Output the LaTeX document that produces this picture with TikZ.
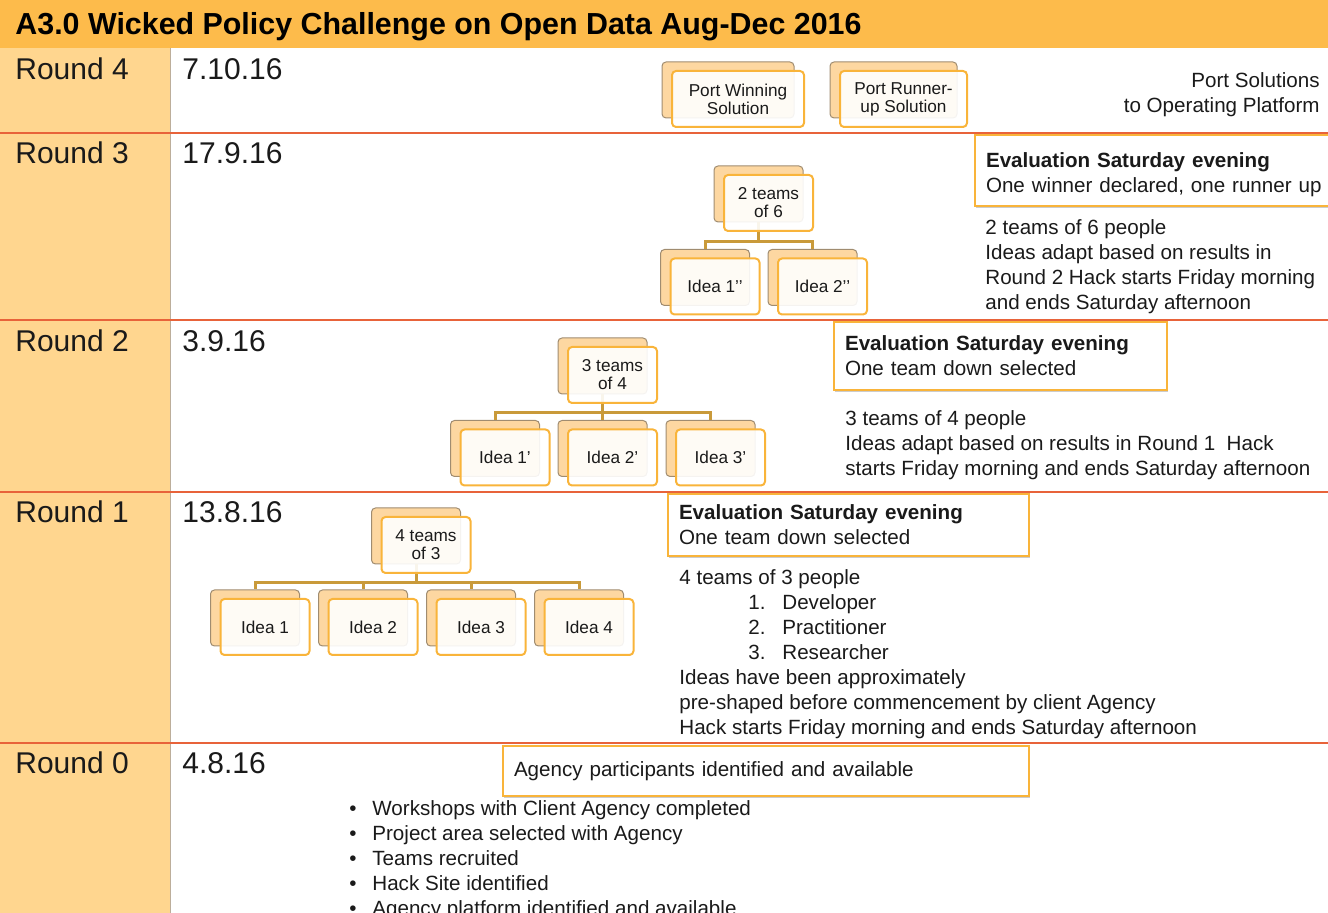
\documentclass[tikz,border=0pt]{standalone}
\usepackage{fontspec}
\setmainfont{Liberation Sans}
\usepackage{xcolor}
\usepackage{tikz}
\usetikzlibrary{positioning, shadows}

\definecolor{titlebar}{HTML}{FDBB4B}
\definecolor{roundcol}{HTML}{FFD68F}
\definecolor{roundrule}{HTML}{E8633A}
\definecolor{cardfill}{HTML}{FDD7A1}
\definecolor{carddraw}{HTML}{A08C70}
\definecolor{cardedge}{HTML}{F9B43A}
\definecolor{treecol}{HTML}{C99A3A}
\definecolor{ink}{HTML}{1A1A1A}

\tikzset{
  cardback/.style={draw=carddraw, line width=0.5pt, fill=cardfill, rounded corners=2pt,
    minimum width=44.5pt, minimum height=28pt, inner sep=0pt},
  cardfront/.style={draw=cardedge, line width=1pt, fill=white, fill opacity=0.9, text opacity=1,
    rounded corners=2pt, minimum width=44.5pt, minimum height=28pt, inner sep=0pt,
    align=center, text=ink, font=\fontsize{8.6}{9}\selectfont},
  treeline/.style={draw=treecol, line width=1.5pt},
  roundlbl/.style={anchor=base west, inner sep=0pt, text=ink, font=\fontsize{15}{18}\selectfont},
  evalbox/.style={draw=cardedge, line width=1pt, fill=white, anchor=north west,
    inner xsep=5.5pt, inner ysep=0pt, align=left, text=ink,
    font=\fontsize{10.3}{12.5}\selectfont,
    drop shadow={shadow xshift=0.4pt, shadow yshift=-0.8pt, fill=black, opacity=0.2}},
  notes/.style={anchor=north west, inner sep=0pt, align=left, text=ink,
    font=\fontsize{10.3}{12.5}\selectfont},
}

\begin{document}
\begin{tikzpicture}[x=0.5pt, y=-0.5pt]
\useasboundingbox (0,0) rectangle (1328,913);
% Title bar and round column
\fill[titlebar] (0,0) rectangle (1328,48);
\fill[roundcol] (0,48) rectangle (170,913);
\draw[carddraw!70, line width=0.5pt] (170,48) -- (170,913);
\node[anchor=base west, inner sep=0pt, text=black, font=\bfseries\fontsize{15.2}{18}\selectfont]
  (title) at (15,35) {A3.0 Wicked Policy Challenge on Open Data Aug-Dec 2016};
% Round names and dates
\foreach \r/\d/\y in {4/7.10.16/80, 3/17.9.16/164, 2/3.9.16/352, 1/13.8.16/523, 0/4.8.16/774} {
  \node[roundlbl] (round\r) at (15,\y) {Round \r};
  \node[roundlbl] (date\r) at (182,\y) {\d};
}

% Round 4 - solutions to port
\node[cardback, minimum width=66pt] (r4winb) at (728,90) {};
\node[cardfront, minimum width=66pt] (r4win) at ([shift={(10,9)}]r4winb.center) {Port Winning\\Solution};
\node[cardback, minimum width=63.5pt] (r4runb) at (893.5,90) {};
\node[cardfront, minimum width=63.5pt] (r4run) at ([shift={(10,9)}]r4runb.center) {Port Runner-\\up Solution};
\node[notes, anchor=north east, align=right] (r4note) at (1320,72)
  {Port Solutions\\to Operating Platform};

% Round 3 - two teams
\node[cardback] (r3teamb) at (758.5,194) {};
\foreach \i/\x in {1/705, 2/812.5} {
  \node[cardback] (r3b\i) at (\x,277.5) {};
  \draw[treeline] (r3teamb.south) -- ++(0,19) -| (r3b\i.north);
}
\node[cardfront] (r3team) at ([shift={(10,9)}]r3teamb.center) {2 teams\\of 6};
\node[cardfront] (r3i1) at ([shift={(10,9)}]r3b1.center) {Idea 1’’};
\node[cardfront] (r3i2) at ([shift={(10,9)}]r3b2.center) {Idea 2’’};
\node[evalbox, minimum height=35.5pt, text width=190pt] (r3eval) at (974,134)
  {\rule{0pt}{11.5pt}\textbf{Evaluation Saturday evening}\\One winner declared, one runner up};
\node[notes] (r3note) at (985,219) {2 teams of 6 people\\Ideas adapt based on results in\\
  Round 2 Hack starts Friday morning\\and ends Saturday afternoon};

% Round 2 - three teams
\node[cardback] (r2teamb) at (602.5,366) {};
\foreach \i/\x in {1/495, 2/602.5, 3/710.5} {
  \node[cardback] (r2b\i) at (\x,448.5) {};
  \draw[treeline] (r2teamb.south) -- ++(0,18) -| (r2b\i.north);
}
\node[cardfront] (r2team) at ([shift={(10,9)}]r2teamb.center) {3 teams\\of 4};
\foreach \i in {1,2,3}
  \node[cardfront] (r2i\i) at ([shift={(10,9)}]r2b\i.center) {Idea \i’};
\node[evalbox, minimum height=34pt, text width=155.5pt] (r2eval) at (833,321)
  {\textbf{Evaluation Saturday evening}\\One team down selected};
\node[notes] (r2note) at (845,410) {3 teams of 4 people\\
  Ideas adapt based on results in Round 1\ \ Hack\\
  starts Friday morning and ends Saturday afternoon};

% Round 1 - four teams
\node[cardback] (r1teamb) at (416,536) {};
\foreach \i/\x in {1/255, 2/363, 3/471, 4/579} {
  \node[cardback] (r1b\i) at (\x,618) {};
  \draw[treeline] (r1teamb.south) -- ++(0,18) -| (r1b\i.north);
}
\node[cardfront] (r1team) at ([shift={(10,9)}]r1teamb.center) {4 teams\\of 3};
\foreach \i in {1,...,4}
  \node[cardfront] (r1i\i) at ([shift={(10,9)}]r1b\i.center) {Idea \i};
\node[evalbox, minimum height=31pt, text width=169.5pt] (r1eval) at (667,493)
  {\textbf{Evaluation Saturday evening}\\One team down selected};
\node[notes] (r1note) at (679,569) {4 teams of 3 people\\
  \hspace*{34.5pt}\makebox[17pt][l]{1.}Developer\\
  \hspace*{34.5pt}\makebox[17pt][l]{2.}Practitioner\\
  \hspace*{34.5pt}\makebox[17pt][l]{3.}Researcher\\
  Ideas have been approximately\\
  pre-shaped before commencement by client Agency\\
  Hack starts Friday morning and ends Saturday afternoon};

% Round 0 - preparation
\node[evalbox, minimum height=25pt, text width=252pt] (r0eval) at (502,745)
  {Agency participants identified and available};
\node[notes] (r0note) at (349,800) {%
  \makebox[11.5pt][l]{•}Workshops with Client Agency completed\\
  \makebox[11.5pt][l]{•}Project area selected with Agency\\
  \makebox[11.5pt][l]{•}Teams recruited\\
  \makebox[11.5pt][l]{•}Hack Site identified\\
  \makebox[11.5pt][l]{•}Agency platform identified and available};

% Round separators
\foreach \y in {133,320,492,743}
  \draw[roundrule, line width=1pt] (0,\y) -- (1328,\y);
\end{tikzpicture}
\end{document}
